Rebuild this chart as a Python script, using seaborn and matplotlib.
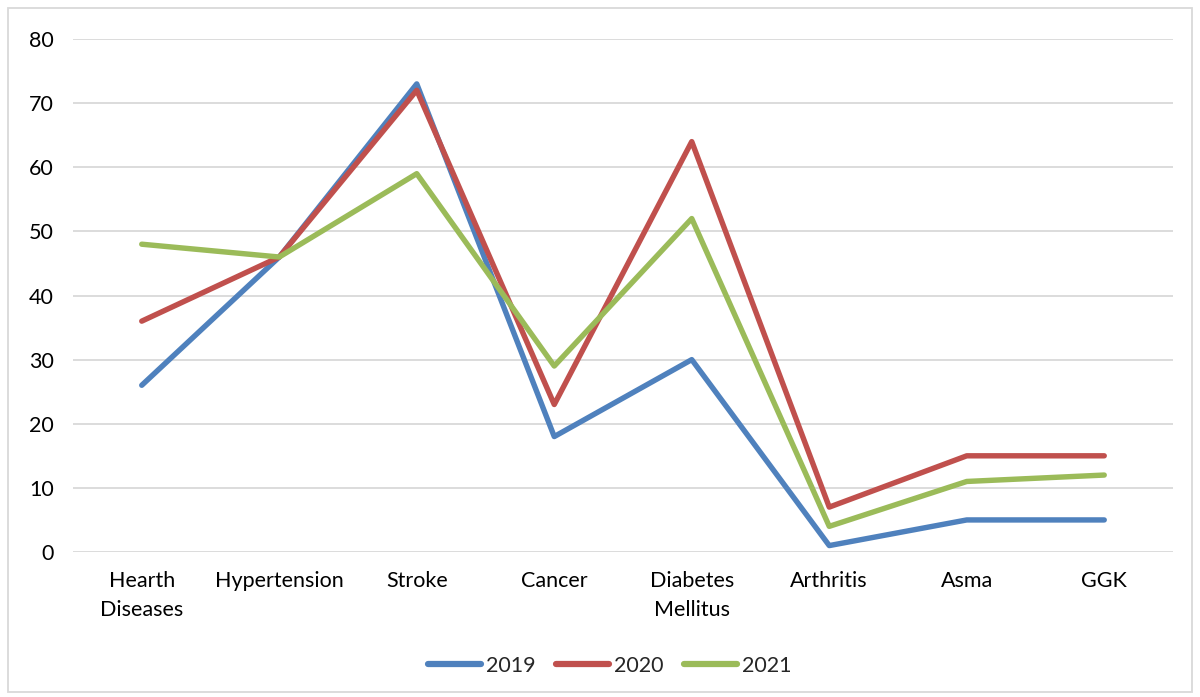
import matplotlib
matplotlib.use("Agg")
import matplotlib.pyplot as plt
import seaborn as sns
import pandas as pd
from matplotlib.patches import Rectangle

categories = ["Hearth\nDiseases", "Hypertension", "Stroke", "Cancer", "Diabetes\nMellitus",
              "Arthritis", "Asma", "GGK"]
s2019 = [26, 46, 73, 18, 30, 1, 5, 5]
s2020 = [36, 46, 72, 23, 64, 7, 15, 15]
s2021 = [48, 46, 59, 29, 52, 4, 11, 12]
years = ["2019", "2020", "2021"]
colors = ["#4F81BD", "#C0504D", "#9BBB59"]
yticks = [0, 10, 20, 30, 40, 50, 60, 70, 80]

rows = []
for yr, vals in zip(years, [s2019, s2020, s2021]):
    for i, (c, v) in enumerate(zip(categories, vals)):
        rows.append({"idx": i, "cat": c, "year": yr, "value": v})
df = pd.DataFrame(rows)

sns.set_theme(style="white")
plt.rcParams['font.family'] = ['Lato', 'DejaVu Sans']

FS = 15.5
fig = plt.figure(figsize=(12, 6.97), dpi=100)
ax = fig.add_axes([73/1200, 1-552/697, 1100/1200, 513/697])

sns.lineplot(data=df, x="idx", y="value", hue="year", palette=colors,
             linewidth=3.9, ax=ax, legend=True, sort=False)
for line in ax.lines:
    line.set_solid_capstyle("round")
    line.set_solid_joinstyle("round")

ax.set_xlim(-0.5, 7.5)
ax.set_ylim(0, 80)
ax.set_yticks(yticks)
ax.set_yticklabels([str(t) for t in yticks], fontsize=FS)
ax.set_xticks(range(len(categories)))
ax.set_xticklabels(categories, fontsize=FS, linespacing=1.55)
ax.tick_params(axis="both", length=0, colors="#000000")
ax.tick_params(axis="y", pad=14)
ax.tick_params(axis="x", pad=14)
ax.yaxis.grid(True, color="#D9D9D9", linewidth=1.3)
ax.xaxis.grid(False)
ax.set_axisbelow(True)
for s in ax.spines.values():
    s.set_visible(False)
ax.set_xlabel("")
ax.set_ylabel("")

handles, labels = ax.get_legend_handles_labels()
ax.legend(handles, labels, loc="center", bbox_to_anchor=(610/1200, 1-666/697),
          bbox_transform=fig.transFigure, ncol=3, frameon=False, fontsize=FS,
          handlelength=2.45, handletextpad=0.25, columnspacing=0.95)
leg = ax.get_legend()
for h in leg.get_lines():
    h.set_linewidth(4.5)
    h.set_solid_capstyle("round")

fig.patches.append(Rectangle((8/1200, 1-692/697), 1184/1200, 684/697,
                             transform=fig.transFigure, fill=False,
                             edgecolor="#D9D9D9", linewidth=1.3))

fig.savefig("out.png", dpi=100, facecolor="white")
